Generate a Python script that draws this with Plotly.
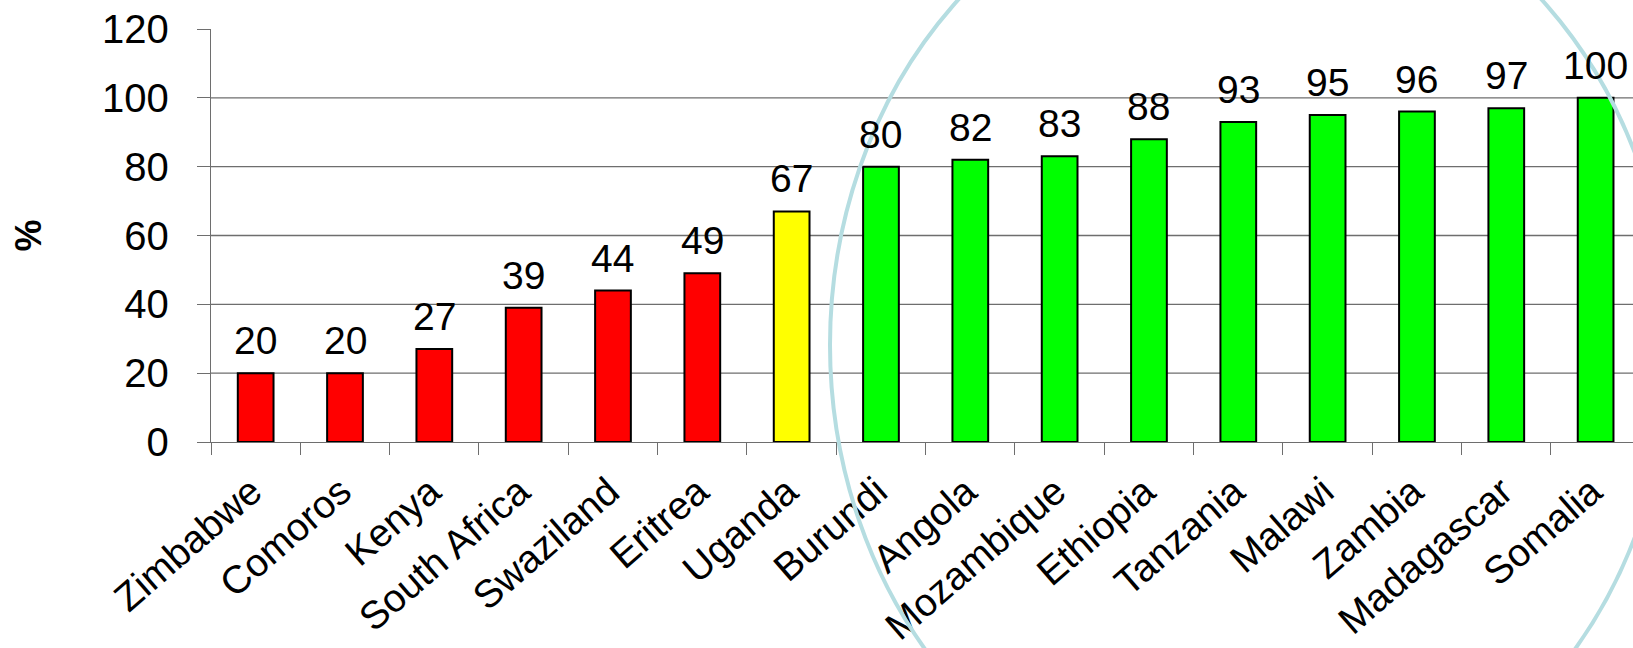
import plotly.graph_objects as go

# ---- data ----
countries = ["Zimbabwe", "Comoros", "Kenya", "South Africa", "Swaziland", "Eritrea",
             "Uganda", "Burundi", "Angola", "Mozambique", "Ethiopia", "Tanzania",
             "Malawi", "Zambia", "Madagascar", "Somalia"]
values = [20, 20, 27, 39, 44, 49, 67, 80, 82, 83, 88, 93, 95, 96, 97, 100]
groups = ["red", "red", "red", "red", "red", "red", "yellow",
          "green", "green", "green", "green", "green", "green", "green", "green", "green"]
y_ticks = [0, 20, 40, 60, 80, 100, 120]
grid_values = [20, 40, 60, 80, 100]

# ---- styles ----
palette = {"red": "#FF0000", "yellow": "#FFFF00", "green": "#00FF00"}
FONT = "Arial, Liberation Sans, sans-serif"
AXIS_COLOR = "#6e6e6e"

W, H = 1633, 648
L, R, T, B = 211, 0, 29, 206
cat_px = 89.33
plot_w = W - L - R
x_max = -0.5 + plot_w / cat_px

fig = go.Figure()
fig.add_trace(go.Bar(
    x=countries, y=values,
    marker=dict(color=[palette[g] for g in groups], line=dict(color="black", width=2)),
    width=0.4,
    hoverinfo="x+y",
))

# data labels
for c, v in zip(countries, values):
    fig.add_annotation(x=c, y=v, text=str(v), showarrow=False, yanchor="bottom",
                       yshift=9, font=dict(family=FONT, size=39, color="black"))

# gridlines
for g in grid_values:
    fig.add_shape(type="line", xref="paper", yref="y", x0=0, x1=1, y0=g, y1=g,
                  line=dict(color=AXIS_COLOR, width=1.3), layer="below")

# y-axis title
fig.add_annotation(xref="paper", yref="paper", x=(28 - L) / plot_w, y=0.5,
                   text="<b>%</b>", textangle=-90, showarrow=False,
                   xanchor="center", yanchor="middle",
                   font=dict(family=FONT, size=36, color="black"))

# highlight ellipse
cx, cy, a, b = 1250, 345, 420, 480
ph = H - T - B
def px2x(p):
    return (p - L) / plot_w
def py2y(p):
    return (H - B - p) / ph
fig.add_shape(type="circle", xref="paper", yref="paper",
              x0=px2x(cx - a), x1=px2x(cx + a), y0=py2y(cy + b), y1=py2y(cy - b),
              line=dict(color="#B5DDE1", width=4), layer="above")

fig.update_layout(
    width=W, height=H,
    margin=dict(l=L, r=R, t=T, b=B, pad=0, autoexpand=False),
    paper_bgcolor="white", plot_bgcolor="white",
    showlegend=False,
    font=dict(family=FONT, color="black"),
    xaxis=dict(
        range=[-0.5, x_max], automargin=False,
        showline=True, linecolor=AXIS_COLOR, linewidth=1.3,
        ticks="outside", tickson="boundaries", ticklen=12, tickcolor=AXIS_COLOR, tickwidth=1.3,
        tickangle=-41, tickfont=dict(family=FONT, size=39, color="black"),
        ticklabelstandoff=10, ticklabelshift=-4,
        showgrid=False, zeroline=False,
    ),
    yaxis=dict(
        range=[0, 120], tickvals=y_ticks, automargin=False,
        showline=True, linecolor=AXIS_COLOR, linewidth=1.3,
        ticks="outside", ticklen=13, tickcolor=AXIS_COLOR, tickwidth=1.3,
        tickfont=dict(family=FONT, size=40, color="black"),
        ticklabelstandoff=20,
        showgrid=False, zeroline=False,
    ),
)

fig.write_html("out.html")
